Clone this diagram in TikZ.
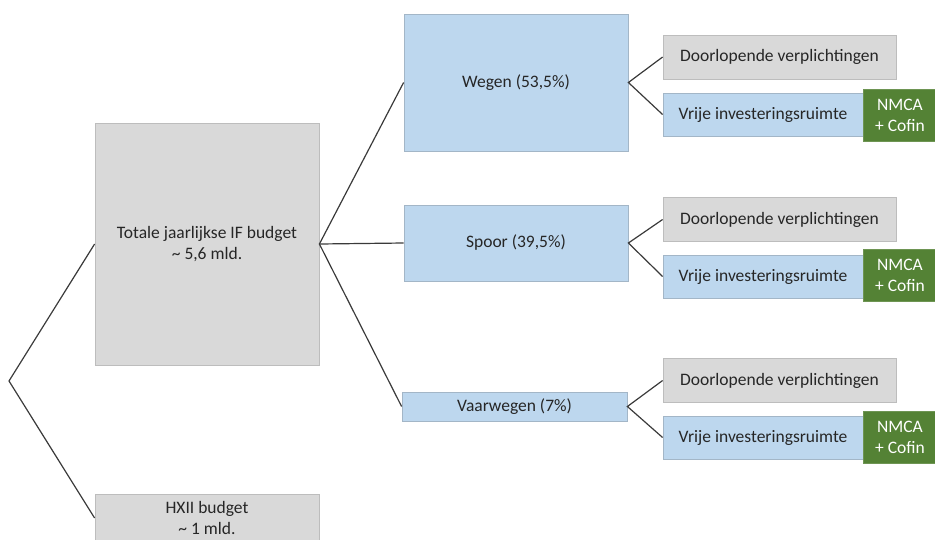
\documentclass[tikz,border=0pt]{standalone}
\usepackage{fontspec}
\setmainfont{Carlito}

\definecolor{boxgray}{HTML}{D9D9D9}
\definecolor{boxgrayline}{HTML}{BDBDBD}
\definecolor{boxblue}{HTML}{BDD7EE}
\definecolor{boxblueline}{HTML}{A3B6C7}
\definecolor{nmcagreen}{HTML}{548235}
\definecolor{wirecol}{HTML}{3A3A3A}

\begin{document}
\begin{tikzpicture}[
  x=1pt, y=-1pt,
  font=\fontsize{17.5}{21}\selectfont,
  text=black!85,
  cell/.style={
    align=center, inner sep=0pt, line width=0.8pt
  },
  graycell/.style={cell, draw=boxgrayline, fill=boxgray},
  bluecell/.style={cell, draw=boxblueline, fill=boxblue},
  greentag/.style={cell, draw=nmcagreen!85!white, fill=nmcagreen, text=white,
    minimum width=74pt, minimum height=52pt},
  dooropl/.style={graycell, minimum width=233pt, minimum height=44pt},
  vrij/.style={bluecell, minimum width=200pt, minimum height=43pt},
  wire/.style={draw=wirecol, line width=1.2pt},
]

% ---- page ----
\useasboundingbox (0,0) rectangle (935,539);
\clip (0,0) rectangle (935,539);

% ---- geometry (centres) ----
\def\cxa{207}    % budget column
\def\cxb{516}    % modality column
\def\cxd{779.5}  % doorlopend boxes
\def\cxv{763}    % vrije ruimte boxes
\def\cxg{900}    % green tags

% =====================================================
% TOTAL BUDGETS (left)
% =====================================================
\coordinate (root) at (9,381);

\node[graycell, minimum width=224pt, minimum height=242pt] (total) at (\cxa,244)
  {Totale jaarlijkse IF budget\\\textasciitilde{} 5,6 mld.};
\node[graycell, minimum width=224pt, minimum height=48pt] (hxii) at (\cxa,518)
  {HXII budget\\\textasciitilde{} 1 mld.};

\draw[wire] (total.west) -- (root) -- (hxii.west);

% =====================================================
% MODALITIES
% =====================================================
\node[bluecell, minimum width=224pt, minimum height=137pt] (wegen) at (\cxb,82.5)
  {Wegen (53,5\%)};
\node[bluecell, minimum width=224pt, minimum height=76pt] (spoor) at (\cxb,243)
  {Spoor (39,5\%)};
\node[bluecell, minimum width=225pt, minimum height=29pt] (vaar) at (514.5,406.5)
  {Vaarwegen (7\%)};

\draw[wire] (wegen.west) -- (total.east) -- (vaar.west);
\draw[wire] (total.east) -- (spoor.west);

% =====================================================
% SPLIT PER MODALITY
% =====================================================
% wegen
\node[dooropl] (wegdoor) at (\cxd,57) {Doorlopende verplichtingen};
\node[vrij] (wegvrij) at (\cxv,114.5) {Vrije investeringsruimte};
\node[greentag] (wegtag) at (\cxg,115) {NMCA\\+ Cofin};
\draw[wire] (wegdoor.west) -- (wegen.east) -- (wegvrij.west);

% spoor
\node[dooropl] (spdoor) at (\cxd,219.5) {Doorlopende verplichtingen};
\node[vrij] (spvrij) at (\cxv,276.5) {Vrije investeringsruimte};
\node[greentag] (sptag) at (\cxg,275.5) {NMCA\\+ Cofin};
\draw[wire] (spdoor.west) -- (spoor.east) -- (spvrij.west);

% vaarwegen
\node[dooropl] (vwdoor) at (\cxd,380.5) {Doorlopende verplichtingen};
\node[vrij] (vwvrij) at (\cxv,437.5) {Vrije investeringsruimte};
\node[greentag] (vwtag) at (\cxg,437.5) {NMCA\\+ Cofin};
\draw[wire] (vwdoor.west) -- (vaar.east) -- (vwvrij.west);

\end{tikzpicture}
\end{document}
